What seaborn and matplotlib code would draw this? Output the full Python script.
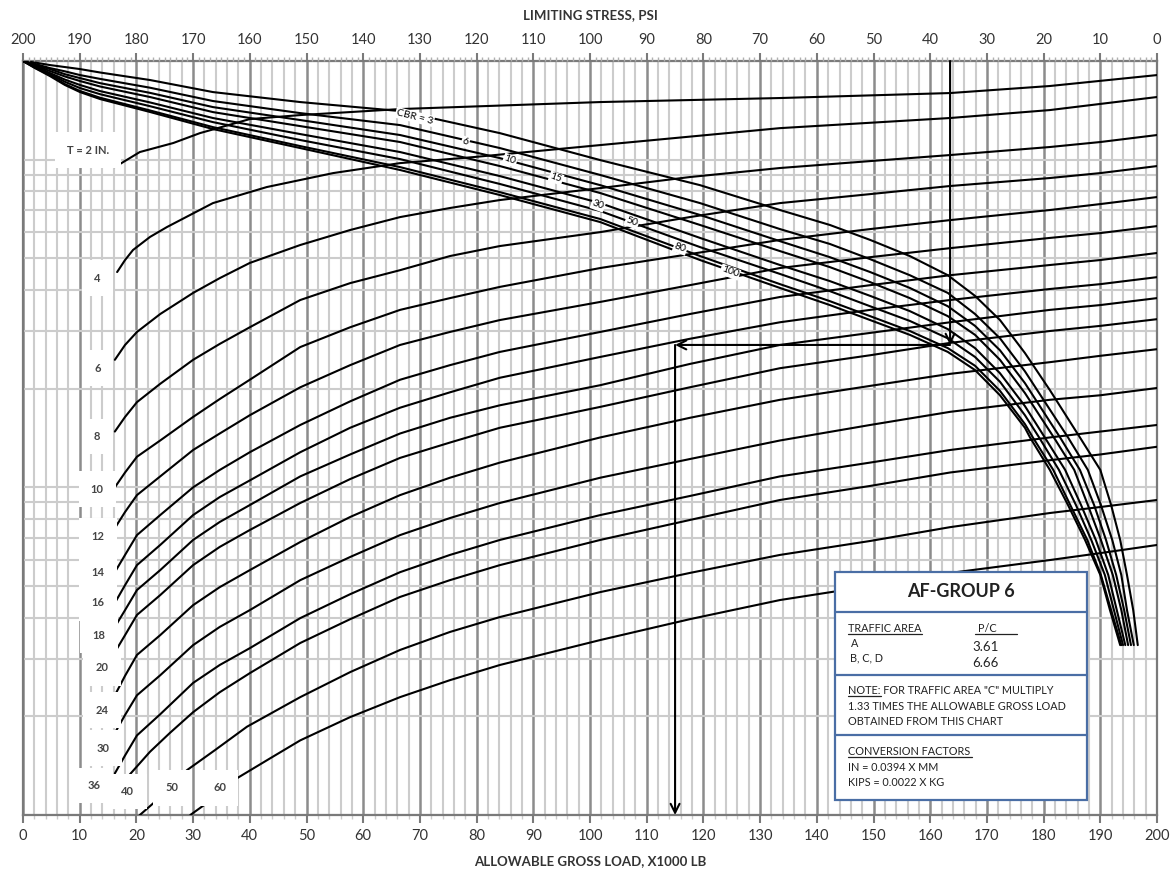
import numpy as np
import pandas as pd
import matplotlib
matplotlib.use("Agg")
import matplotlib.pyplot as plt
from matplotlib.ticker import MultipleLocator, LogLocator, NullFormatter
from matplotlib.patches import Rectangle
from matplotlib.lines import Line2D
import seaborn as sns

# ---------------- DATA (x = allowable gross load, kips; y = chart scale, log) ----------------
# Thickness curves T (inches)
t_x = [16.2, 18.0, 20.1, 24.2, 30.0, 34.7, 40.0, 48.9, 57.7, 66.5, 75.3, 84.1, 101.8,
       117.6, 133.5, 149.4, 163.5, 181.1, 190.0, 200.0]
t2_x = [16.2, 20.6, 26.5, 31.2, 40.0, 48.9, 66.5, 101.8, 133.5, 163.5, 181.1, 200.0]
t2_y = [94.9, 105.5, 112.4, 120.5, 133.0, 136.8, 142.7, 149.9, 154.2, 159.7, 167.8, 181.2]
t4_x = [16.6, 18.0, 19.4, 22.4, 25.4, 33.5, 43.0, 54.7, 66.5, 79.4, 101.8, 133.5, 163.5,
        181.1, 200.0]
t4_y = [45.4, 49.4, 53.0, 58.1, 62.3, 73.7, 82.5, 91.0, 97.6, 101.8, 110.8, 124.8, 134.0,
        141.7, 155.3]
t6_y = [24.5, 27.2, 29.8, 33.8, 39.2, 43.5, 48.4, 54.9, 61.0, 66.8, 71.2, 75.3, 81.9,
        88.5, 94.3, 99.0, 103.3, 109.3, 113.2, 118.9]
t8_y = [14.8, 16.4, 18.2, 20.7, 24.5, 27.4, 30.8, 37.3, 42.0, 46.0, 50.8, 54.5, 60.1,
        66.8, 73.7, 78.5, 83.1, 87.9, 91.0, 95.6]
t10_y = [10.0, 11.1, 12.4, 13.9, 16.4, 18.6, 21.3, 26.8, 30.8, 34.8, 37.8, 40.9, 46.7,
         51.5, 56.9, 61.4, 65.4, 70.2, 73.2, 76.9]
t12_y = [7.51, 8.41, 9.47, 10.8, 13.0, 14.6, 16.6, 20.2, 23.6, 27.2, 29.8, 32.4, 36.8,
         41.4, 46.7, 50.4, 53.7, 57.7, 59.7, 62.7]
t14_y = [5.51, 6.22, 7.15, 8.23, 10.0, 11.3, 12.8, 15.5, 18.3, 21.3, 23.6, 25.9, 29.8,
         33.8, 38.1, 41.4, 44.4, 47.7, 49.4, 51.9]
t16_y = [4.44, 5.03, 5.79, 6.67, 8.23, 9.34, 10.5, 12.8, 15.2, 17.5, 19.5, 21.6, 25.0,
         28.4, 31.9, 34.8, 37.3, 40.3, 41.7, 43.8]
t18_y = [3.75, 4.22, 4.86, 5.59, 6.91, 7.84, 8.83, 10.8, 12.6, 14.6, 16.3, 17.8, 20.5,
         23.8, 27.2, 29.6, 31.9, 34.8, 36.0, 37.8]
t20_y = [3.14, 3.54, 4.08, 4.69, 5.79, 6.58, 7.41, 8.96, 10.6, 12.3, 13.7, 15.2, 17.6,
         20.2, 23.1, 25.3, 27.6, 30.0, 31.1, 32.6]
t24_y = [2.32, 2.66, 3.08, 3.54, 4.37, 4.96, 5.59, 6.81, 8.12, 9.47, 10.7, 11.9, 14.2,
         16.3, 18.5, 20.4, 22.2, 24.1, 25.2, 26.4]
t30_y = [1.78, 2.02, 2.32, 2.67, 3.30, 3.75, 4.22, 5.21, 6.13, 7.15, 8.06, 8.96, 10.7,
         12.2, 13.9, 15.5, 17.0, 18.5, 19.1, 20.1]
t36_y = [1.34, 1.52, 1.75, 2.03, 2.53, 2.87, 3.23, 3.99, 4.72, 5.51, 6.22, 6.91, 8.23,
         9.41, 10.8, 11.9, 13.0, 14.2, 14.8, 15.5]
t40_x = [15.9, 18.5, 22.4, 25.9, 30.0, 34.7, 40.0, 48.9, 57.7, 66.5, 75.3, 84.1, 101.8,
         117.6, 133.5, 149.4, 163.5, 181.1, 190.0, 200.0]
t40_y = [1.07, 1.31, 1.56, 1.78, 2.06, 2.37, 2.71, 3.35, 3.96, 4.63, 5.21, 5.79, 6.91,
         7.95, 9.15, 10.1, 11.1, 12.1, 12.6, 13.3]
t50_x = [20.6, 23.6, 28.9, 33.9, 39.5, 48.9, 57.7, 66.5, 75.3, 84.1, 101.8, 117.6, 133.5,
         149.4, 163.5, 181.1, 190.0, 200.0]
t50_y = [1.00, 1.11, 1.37, 1.58, 1.86, 2.29, 2.73, 3.19, 3.62, 4.02, 4.79, 5.48, 6.22,
         6.86, 7.56, 8.35, 8.71, 9.15]
t60_x = [29.5, 32.5, 37.9, 43.6, 48.9, 57.7, 66.5, 75.3, 84.1, 101.8, 117.6, 133.5, 149.4,
         163.5, 181.1, 190.0, 200.0]
t60_y = [1.00, 1.09, 1.30, 1.49, 1.69, 1.99, 2.29, 2.58, 2.87, 3.42, 3.96, 4.53, 5.00,
         5.48, 6.00, 6.30, 6.67]

# CBR curves: upper branch on a shared load grid, lower (steep) branch on shared levels
cbr_x_upper = [0.0, 2.1, 4.76, 7.4, 10.05, 13.6, 22.4, 33.5, 48.9, 66.5, 84.1, 101.8,
               119.4, 133.5, 142.3, 149.4, 156.4, 163.1, 167.9, 172.3, 176.7]
cbr_y_lower = [14.2, 11.3, 8.83, 6.91, 5.40, 4.22, 3.30]

cbr3_y_upper = [200, 197.9, 194.4, 191.7, 189.0, 184.5, 175.0, 160.8, 149.9, 140.7, 120.5,
                99.7, 83.6, 70.2, 63.2, 56.9, 50.8, 44.4, 38.4, 32.4, 25.7]
cbr3_x_lower = [181.1, 186.4, 190.0, 191.9, 193.5, 194.7, 195.8, 196.6]
cbr3_y_lower = [19.8, 14.2, 11.3, 8.83, 6.91, 5.40, 4.22, 3.30]

cbr6_y_upper = [200, 196.1, 190.3, 186.0, 181.2, 176.4, 165.8, 151.0, 138.7, 127.5, 108.5,
                89.8, 73.7, 61.4, 55.3, 49.7, 44.4, 39.2, 33.8, 28.5, 22.6]
cbr6_x_lower = [184.3, 187.8, 190.1, 192.1, 193.7, 194.7, 195.9]

cbr10_y_upper = [200, 194.9, 189.0, 182.3, 177.4, 171.2, 159.9, 144.7, 132.1, 118.9, 101.1,
                 83.6, 67.8, 56.4, 50.4, 45.4, 40.6, 35.7, 31.1, 26.2, 20.8]
cbr10_x_lower = [182.9, 186.4, 188.9, 191.0, 192.8, 194.2, 195.4]

cbr15_y_upper = [200, 193.9, 186.4, 179.4, 173.8, 167.2, 155.3, 139.7, 126.6, 113.2, 95.6,
                 79.1, 63.2, 52.6, 47.0, 42.3, 37.8, 33.3, 29.2, 24.5, 19.4]
cbr15_x_lower = [181.8, 185.4, 187.8, 190.1, 192.2, 193.7, 194.9]

cbr30_y_upper = [200, 192.6, 183.8, 175.5, 169.0, 161.9, 149.5, 134.0, 119.7, 105.5, 89.1,
                 73.7, 57.7, 47.7, 42.6, 38.4, 34.5, 30.4, 26.6, 22.3, 17.7]
cbr30_x_lower = [180.2, 183.8, 186.6, 189.2, 191.4, 192.9, 194.4]

cbr50_y_upper = [200, 191.7, 182.5, 172.8, 165.4, 158.4, 145.6, 130.2, 114.8, 100.4, 84.3,
                 69.7, 54.1, 44.8, 39.7, 35.7, 32.2, 28.5, 25.0, 21.0, 16.6]
cbr50_x_lower = [179.2, 182.7, 185.7, 188.4, 190.8, 192.4, 194.0]

cbr80_y_upper = [200, 190.8, 181.2, 170.0, 162.0, 154.5, 141.3, 125.7, 110.0, 94.9, 79.6,
                 65.9, 50.8, 41.7, 37.0, 33.3, 30.0, 26.6, 23.5, 19.7, 15.6]
cbr80_x_lower = [178.1, 181.7, 184.7, 187.7, 190.1, 191.9, 193.7]

cbr100_y_upper = [200, 190.4, 179.9, 169.0, 160.8, 153.1, 139.8, 124.0, 108.5, 93.0, 78.0,
                  64.5, 49.4, 40.6, 36.0, 32.4, 29.2, 25.9, 22.8, 19.1, 15.2]
cbr100_x_lower = [177.6, 181.1, 184.3, 187.3, 190.0, 191.7, 193.5]

# labels
t_label_text = ["T = 2 IN.", "4", "6", "8", "10", "12", "14", "16", "18", "20", "24", "30",
                "36", "40", "50", "60"]
t_label_x = [11.5, 13.1, 13.1, 13.1, 13.1, 13.2, 13.2, 13.2, 13.4, 13.9, 13.9, 14.1,
             12.5, 18.5, 26.3, 34.7]
t_label_y = [106.9, 43.5, 23.1, 14.3, 9.88, 7.10, 5.51, 4.44, 3.54, 2.81, 2.09, 1.60,
             1.23, 1.18, 1.21, 1.21]
cbr_label_text = ["CBR = 3", "6", "10", "15", "30", "50", "80", "100"]
cbr_label_x = [69.1, 78.0, 85.9, 94.0, 101.4, 107.4, 115.9, 124.7]
cbr_label_y = [135.0, 113.2, 99.7, 87.9, 72.7, 64.5, 53.7, 45.4]

# worked example
example_stress_psi = 36.5
example_level = 27.2
example_load_kips = 115.0

bottom_ticks = list(range(0, 201, 10))
top_ticks = list(range(0, 201, 10))

# ---------------- BUILD LONG TABLE ----------------
curves = [
    ("T2", t2_x, t2_y), ("T4", t4_x, t4_y), ("T6", t_x, t6_y), ("T8", t_x, t8_y),
    ("T10", t_x, t10_y), ("T12", t_x, t12_y), ("T14", t_x, t14_y), ("T16", t_x, t16_y),
    ("T18", t_x, t18_y), ("T20", t_x, t20_y), ("T24", t_x, t24_y), ("T30", t_x, t30_y),
    ("T36", t_x, t36_y), ("T40", t40_x, t40_y), ("T50", t50_x, t50_y), ("T60", t60_x, t60_y),
    ("CBR3", cbr_x_upper + cbr3_x_lower, cbr3_y_upper + cbr3_y_lower),
    ("CBR6", cbr_x_upper + cbr6_x_lower, cbr6_y_upper + cbr_y_lower),
    ("CBR10", cbr_x_upper + cbr10_x_lower, cbr10_y_upper + cbr_y_lower),
    ("CBR15", cbr_x_upper + cbr15_x_lower, cbr15_y_upper + cbr_y_lower),
    ("CBR30", cbr_x_upper + cbr30_x_lower, cbr30_y_upper + cbr_y_lower),
    ("CBR50", cbr_x_upper + cbr50_x_lower, cbr50_y_upper + cbr_y_lower),
    ("CBR80", cbr_x_upper + cbr80_x_lower, cbr80_y_upper + cbr_y_lower),
    ("CBR100", cbr_x_upper + cbr100_x_lower, cbr100_y_upper + cbr_y_lower),
]
rows = []
for name, xs, ys in curves:
    for i, (xv, yv) in enumerate(zip(xs, ys)):
        rows.append({"curve": name, "order": i, "load": xv, "scale": yv})
df = pd.DataFrame(rows)

# ---------------- STYLE ----------------
sns.set_theme(style="white")
plt.rcParams["font.family"] = ["Lato", "DejaVu Sans"]

GRID_LIGHT = "#cccccc"
GRID_DARK = "#8c8c8c"
SPINE = "#7a7a7a"
TXT = "#333333"

fig = plt.figure(figsize=(11.73, 8.73), dpi=100)
ax = fig.add_axes([0.0196, 0.0664, 0.9668, 0.8637])
ax.set_yscale("log")
ax.set_xlim(0, 200)
ax.set_ylim(1, 200)

ax.xaxis.set_major_locator(MultipleLocator(10))
ax.xaxis.set_minor_locator(MultipleLocator(2))
ax.yaxis.set_major_locator(LogLocator(base=10, numticks=10))
ax.yaxis.set_minor_locator(LogLocator(base=10, subs=np.arange(2, 10), numticks=50))
ax.yaxis.set_major_formatter(NullFormatter())
ax.yaxis.set_minor_formatter(NullFormatter())
ax.grid(True, axis="y", which="both", color=GRID_LIGHT, lw=1.5)
ax.grid(True, axis="x", which="minor", color=GRID_LIGHT, lw=1.5)
ax.grid(True, axis="x", which="major", color=GRID_DARK, lw=1.8)
ax.set_axisbelow(True)

sns.lineplot(data=df, x="load", y="scale", units="curve", estimator=None, sort=False,
             color="black", lw=1.5, ax=ax, legend=False, zorder=3)

ax.set_xlim(0, 200)
ax.set_ylim(1, 200)
ax.set_xticks(bottom_ticks)
ax.set_xticklabels([str(t) for t in bottom_ticks])
ax.tick_params(axis="x", which="major", bottom=True, length=6, width=1.5, color=SPINE,
               labelsize=10.5, labelcolor=TXT, pad=4)
ax.tick_params(axis="x", which="minor", bottom=True, length=3, width=1.0, color=GRID_LIGHT)
ax.tick_params(axis="y", which="both", left=False, right=False, labelleft=False)
ax.set_ylabel("")
ax.set_xlabel("ALLOWABLE GROSS LOAD, X1000 LB", fontsize=9.5, fontweight="bold",
              color=TXT, labelpad=9)
for s in ax.spines.values():
    s.set_color(SPINE)
    s.set_linewidth(1.6)
    s.set_visible(True)

# top axis: limiting stress
ax2 = ax.twiny()
ax2.set_xlim(200, 0)
ax2.set_xticks(top_ticks)
ax2.set_xticklabels([str(t) for t in top_ticks])
ax2.xaxis.set_minor_locator(MultipleLocator(1))
ax2.tick_params(axis="x", which="major", top=True, length=6, width=1.5, color=SPINE,
                labelsize=10.5, labelcolor=TXT, pad=4)
ax2.tick_params(axis="x", which="minor", top=True, length=3, width=1.0, color="#b0b0b0")
ax2.set_xlabel("LIMITING STRESS, PSI", fontsize=9.5, fontweight="bold", color=TXT,
               labelpad=10)
for s in ax2.spines.values():
    s.set_visible(False)
ax2.grid(False)

# thickness labels
for txt, xv, yv in zip(t_label_text, t_label_x, t_label_y):
    ax.text(xv, yv, txt, ha="center", va="center", fontsize=8, fontweight="bold",
            color="#444444", zorder=4,
            bbox=dict(boxstyle="square,pad=1.1", fc="white", ec="none"))

# CBR labels
for i, (txt, xv, yv) in enumerate(zip(cbr_label_text, cbr_label_x, cbr_label_y)):
    ax.text(xv, yv, txt, ha="center", va="center", fontsize=7.5, color="black",
            rotation=-14 if i == 0 else -20, zorder=4,
            bbox=dict(boxstyle="square,pad=0.1", fc="white", ec="none"))

# worked example path
ex_x = 200 - example_stress_psi
arrow_kw = dict(arrowstyle="->", lw=1.5, color="black", mutation_scale=16,
                shrinkA=0, shrinkB=0)
ax.annotate("", xy=(ex_x, example_level), xytext=(ex_x, 200), arrowprops=arrow_kw,
            zorder=5)
ax.annotate("", xy=(example_load_kips, example_level), xytext=(ex_x, example_level),
            arrowprops=arrow_kw, zorder=5)
ax.annotate("", xy=(example_load_kips, 1.0), xytext=(example_load_kips, example_level),
            arrowprops=arrow_kw, zorder=5)

# info box (axes-fraction coordinates)
BOX = "#4a6ea5"
bl, br, bb, bt = 0.716, 0.938, 0.020, 0.322
ax.add_patch(Rectangle((bl, bb), br - bl, bt - bb, transform=ax.transAxes, fc="white",
                       ec=BOX, lw=1.6, zorder=6))
for yy in (0.269, 0.186, 0.106):
    ax.add_line(Line2D([bl, br], [yy, yy], transform=ax.transAxes, color=BOX, lw=1.6,
                       zorder=7))
ax.text(0.827, 0.296, "AF-GROUP 6", transform=ax.transAxes, ha="center", va="center",
        fontsize=13, fontweight="bold", color="#222222", zorder=8)
small = dict(transform=ax.transAxes, ha="left", va="center", fontsize=7.8, color="#222222",
             zorder=8)
ax.text(0.7275, 0.248, "TRAFFIC AREA", **small)
ax.text(0.8422, 0.248, "P/C", **small)
ax.text(0.7305, 0.2281, "A", **small)
ax.text(0.7293, 0.2082, "B, C, D", **small)
ax.text(0.8370, 0.2228, "3.61", transform=ax.transAxes, ha="left", va="center",
        fontsize=9.5, color="#222222", zorder=8)
ax.text(0.8370, 0.2016, "6.66", transform=ax.transAxes, ha="left", va="center",
        fontsize=9.5, color="#222222", zorder=8)
ax.text(0.7275, 0.1658, "NOTE: FOR TRAFFIC AREA \"C\" MULTIPLY", **small)
ax.text(0.7275, 0.1446, "1.33 TIMES THE ALLOWABLE GROSS LOAD", **small)
ax.text(0.7275, 0.1247, "OBTAINED FROM THIS CHART", **small)
ax.text(0.7275, 0.0849, "CONVERSION FACTORS", **small)
ax.text(0.7275, 0.0637, "IN = 0.0394 X MM", **small)
ax.text(0.7275, 0.0438, "KIPS = 0.0022 X KG", **small)
for x0, x1, yy in ((0.7275, 0.7928, 0.2395), (0.8395, 0.8765, 0.2395),
                   (0.7275, 0.7570, 0.1575), (0.7275, 0.8370, 0.0766)):
    ax.add_line(Line2D([x0, x1], [yy, yy], transform=ax.transAxes, color="#222222",
                       lw=0.9, zorder=8))

fig.savefig("out.png", dpi=100)
